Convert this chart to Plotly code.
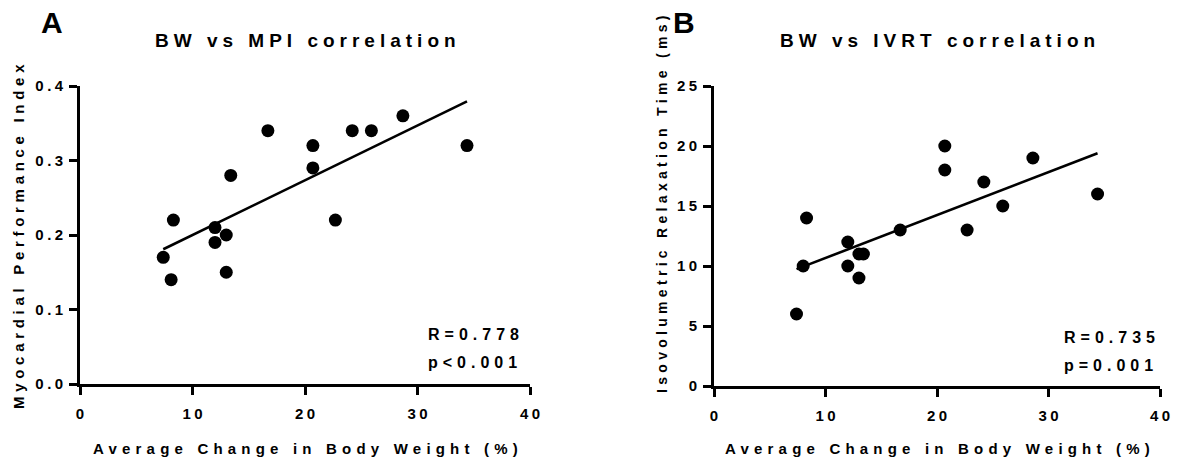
import numpy as np
import plotly.graph_objects as go

# ---- data ----
bw_change = [7.4, 8.1, 8.3, 12.0, 12.0, 13.0, 13.0, 13.4, 16.7, 20.7, 20.7, 22.7, 24.2, 25.9, 28.7, 34.4]
mpi = [0.17, 0.14, 0.22, 0.21, 0.19, 0.20, 0.15, 0.28, 0.34, 0.32, 0.29, 0.22, 0.34, 0.34, 0.36, 0.32]

bw_change_b = [7.4, 8.0, 8.3, 12.0, 12.0, 13.0, 13.0, 13.4, 16.7, 20.7, 20.7, 22.7, 24.2, 25.9, 28.6, 34.4]
ivrt = [6, 10, 14, 12, 10, 9, 11, 11, 13, 20, 18, 13, 17, 15, 19, 16]

x_ticks = [0, 10, 20, 30, 40]
mpi_ticks = [0.0, 0.1, 0.2, 0.3, 0.4]
ivrt_ticks = [0, 5, 10, 15, 20, 25]

titles = ["BW vs MPI correlation", "BW vs IVRT correlation"]
y_titles = ["Myocardial Performance Index", "Isovolumetric Relaxation Time (ms)"]
x_title = "Average Change in Body Weight (%)"
stats_a = ["R=0.778", "p&lt;0.001"]
stats_b = ["R=0.735", "p=0.001"]
panel_labels = ["A", "B"]

# ---- layout helpers ----
W, H = 1184, 463
FONT = "Liberation Sans, Arial, sans-serif"


def px(x):
    return x / W


def py(y):
    return 1 - y / H


def spaced(text, sp):
    # letter spacing between characters, none after the last one
    if text.endswith(";"):
        head, tail = text, ""
    else:
        head, tail = text[:-1], text[-1]
    return f'<span style="letter-spacing:{sp}px">{head}</span>{tail}'


def fit_line(xs, ys):
    k, b = np.polyfit(xs, ys, 1)
    xx = np.array([min(xs), max(xs)])
    return xx, k * xx + b


fig = go.Figure()

for xs, ys, xa, ya in [(bw_change, mpi, "x", "y"), (bw_change_b, ivrt, "x2", "y2")]:
    lx, ly = fit_line(xs, ys)
    fig.add_trace(go.Scatter(x=lx, y=ly, mode="lines", line=dict(color="black", width=2.6),
                             xaxis=xa, yaxis=ya, showlegend=False, hoverinfo="skip"))
    fig.add_trace(go.Scatter(x=xs, y=ys, mode="markers", marker=dict(color="black", size=13),
                             xaxis=xa, yaxis=ya, showlegend=False, cliponaxis=False))

TICK_SP = 3.5
axis_common = dict(
    showline=True, linecolor="black", linewidth=2.6,
    ticks="outside", ticklen=8, tickwidth=2.6, tickcolor="black",
    showgrid=False, zeroline=False, automargin=False,
    tickfont=dict(family=FONT, size=15, color="black", weight="bold"),
)

fig.update_layout(
    template="none",
    width=W, height=H, autosize=False,
    margin=dict(l=0, r=0, t=0, b=0, pad=0),
    paper_bgcolor="white", plot_bgcolor="white",
    font=dict(family=FONT, color="black"),
    xaxis=dict(domain=[px(80), px(530)], range=[0, 40], tickvals=x_ticks, ticklabelstandoff=6,
               ticktext=[spaced(str(v), TICK_SP) for v in x_ticks], anchor="y", **axis_common),
    yaxis=dict(domain=[py(384), py(86)], range=[0, 0.4], tickvals=mpi_ticks, ticklabelstandoff=3,
               ticktext=[spaced(f"{v:.1f}", TICK_SP) for v in mpi_ticks], anchor="x", **axis_common),
    xaxis2=dict(domain=[px(714), px(1160)], range=[0, 40], tickvals=x_ticks, ticklabelstandoff=6,
                ticktext=[spaced(str(v), TICK_SP) for v in x_ticks], anchor="y2", **axis_common),
    yaxis2=dict(domain=[py(386), py(86)], range=[0, 25], tickvals=ivrt_ticks, ticklabelstandoff=3,
                ticktext=[spaced(str(v), TICK_SP) for v in ivrt_ticks], anchor="x2", **axis_common),
)

ann = []


def add_text(text, x, y, size, sp=0, xanchor="center", yanchor="middle", angle=0):
    ann.append(dict(text=spaced(text, sp) if sp else text, x=px(x), y=py(y), xref="paper", yref="paper",
                    xanchor=xanchor, yanchor=yanchor, textangle=angle, showarrow=False,
                    font=dict(family=FONT, size=size, color="black", weight="bold")))


# panel letters
add_text(panel_labels[0], 52, 22, 30)
add_text(panel_labels[1], 684, 23, 30)
# titles
add_text(titles[0], 305, 41, 19, sp=5)
add_text(titles[1], 937, 41, 19, sp=5)
# x titles
add_text(x_title, 305, 448, 15, sp=5.2)
add_text(x_title, 937, 448, 15, sp=5.2)
# y titles
add_text(y_titles[0], 18, 237, 15, sp=4.7, angle=-90)
add_text(y_titles[1], 662, 205, 14, sp=4.3, angle=-90)
# stats
add_text(stats_a[0], 426, 334, 16, sp=5, xanchor="left")
add_text(stats_a[1], 426, 362, 16, sp=5, xanchor="left")
add_text(stats_b[0], 1062, 337, 16, sp=5, xanchor="left")
add_text(stats_b[1], 1062, 365, 16, sp=5, xanchor="left")

fig.update_layout(annotations=ann)

fig.write_html(
    "out.html",
    config={"displayModeBar": False},
    post_script="document.body.style.margin='0';document.body.style.padding='0';",
)
